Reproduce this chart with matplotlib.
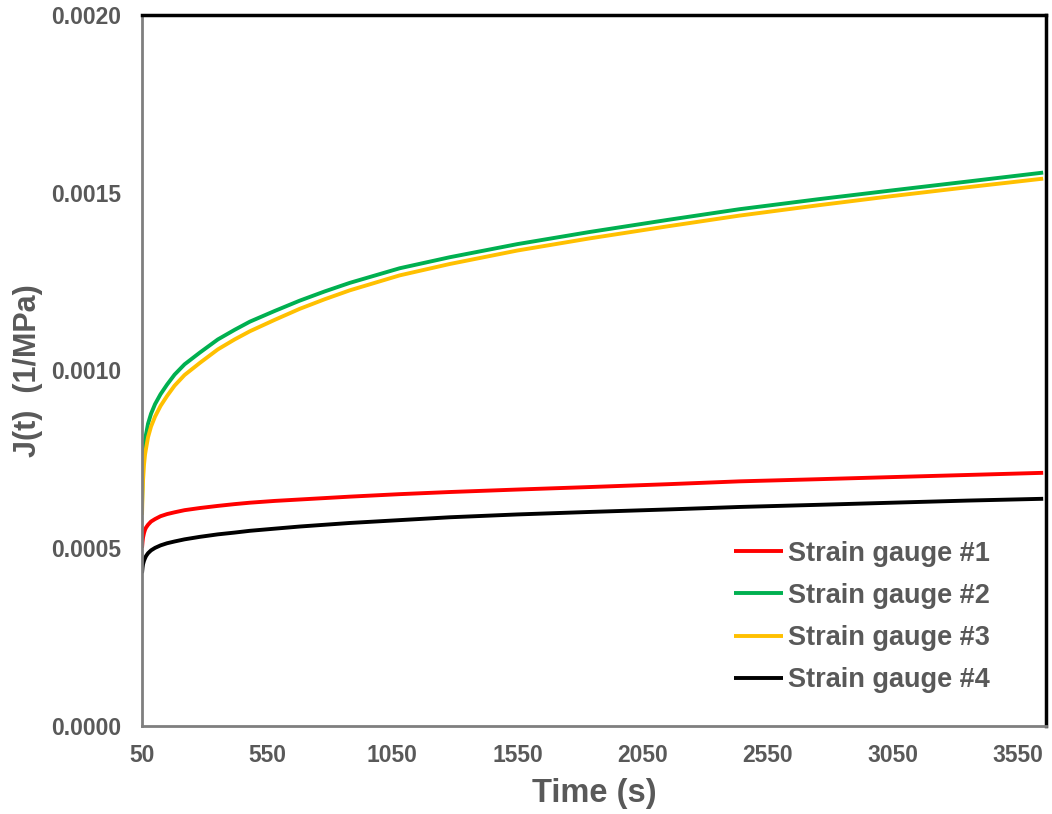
import matplotlib
matplotlib.use("Agg")
import matplotlib.pyplot as plt

# 시간 (s) 와 각 스트레인 게이지의 크리프 컴플라이언스 J(t)
time_s = [50, 52, 54, 58, 62, 66, 74, 86, 102, 124, 150, 180, 220, 281, 353, 420, 481,
          580, 680, 780, 880, 1079, 1279, 1550, 1838, 2150, 2436, 2750, 3047, 3350, 3650]

gauge_1 = [0.000501, 0.000518, 0.000530, 0.000543, 0.000552, 0.000558, 0.000566, 0.000575,
           0.000582, 0.000590, 0.000596, 0.000601, 0.000607, 0.000613, 0.000619, 0.000624,
           0.000628, 0.000633, 0.000637, 0.000641, 0.000645, 0.000652, 0.000658, 0.000665,
           0.000672, 0.000680, 0.000688, 0.000694, 0.000700, 0.000706, 0.000712]
gauge_2 = [0.000620, 0.000700, 0.000740, 0.000780, 0.000805, 0.000820, 0.000850, 0.000878,
           0.000905, 0.000933, 0.000960, 0.000988, 0.001017, 0.001050, 0.001087, 0.001114,
           0.001137, 0.001167, 0.001196, 0.001222, 0.001246, 0.001287, 0.001318, 0.001355,
           0.001389, 0.001423, 0.001453, 0.001481, 0.001506, 0.001531, 0.001556]
gauge_3 = [0.000594, 0.000650, 0.000690, 0.000735, 0.000763, 0.000780, 0.000812, 0.000842,
           0.000870, 0.000900, 0.000928, 0.000957, 0.000987, 0.001021, 0.001059, 0.001087,
           0.001110, 0.001142, 0.001173, 0.001200, 0.001225, 0.001267, 0.001299, 0.001337,
           0.001371, 0.001405, 0.001435, 0.001464, 0.001490, 0.001515, 0.001539]
gauge_4 = [0.000430, 0.000445, 0.000455, 0.000465, 0.000472, 0.000478, 0.000486, 0.000494,
           0.000501, 0.000508, 0.000514, 0.000519, 0.000525, 0.000532, 0.000539, 0.000544,
           0.000549, 0.000555, 0.000561, 0.000566, 0.000571, 0.000579, 0.000587, 0.000595,
           0.000602, 0.000609, 0.000616, 0.000622, 0.000628, 0.000634, 0.000639]

series_labels = ['Strain gauge #1', 'Strain gauge #2', 'Strain gauge #3', 'Strain gauge #4']
series_colors = ['#FF0000', '#00B050', '#FFC000', '#000000']

x_ticks = [50, 550, 1050, 1550, 2050, 2550, 3050, 3550]
y_ticks = [0.0, 0.0005, 0.0010, 0.0015, 0.0020]

text_color = '#595959'
plt.rcParams['font.family'] = ['Liberation Sans', 'DejaVu Sans']

fig = plt.figure(figsize=(10.52, 8.14), dpi=100, facecolor='white')
ax = fig.add_axes([0.135, 0.108, 0.859, 0.874])

for values, label, color in zip([gauge_1, gauge_2, gauge_3, gauge_4], series_labels, series_colors):
    ax.plot(time_s, values, color=color, lw=2.8, label=label, solid_capstyle='butt')

ax.set_xlim(50, 3660)
ax.set_ylim(0, 0.002)
ax.set_xticks(x_ticks)
ax.set_yticks(y_ticks)
ax.set_yticklabels([f'{v:.4f}' for v in y_ticks])
ax.tick_params(length=0, labelsize=16.5, labelcolor=text_color)
ax.tick_params(axis='x', pad=13)
ax.tick_params(axis='y', pad=15)
for lbl in ax.get_xticklabels() + ax.get_yticklabels():
    lbl.set_fontweight('bold')

# 테두리: 좌/하 회색, 상/우 검정
ax.spines['left'].set_color('#7f7f7f')
ax.spines['bottom'].set_color('#7f7f7f')
ax.spines['left'].set_linewidth(2)
ax.spines['bottom'].set_linewidth(2)
ax.spines['top'].set_color('black')
ax.spines['right'].set_color('black')
ax.spines['top'].set_linewidth(2.5)
ax.spines['right'].set_linewidth(2.5)

ax.set_xlabel('Time (s)', fontsize=23.5, fontweight='bold', color=text_color, labelpad=8)
ax.set_ylabel('J(t)  (1/MPa)', fontsize=22, fontweight='bold', color=text_color)
ax.yaxis.set_label_coords(-0.11, 0.5)

leg = ax.legend(loc='lower right', bbox_to_anchor=(0.9535, 0.027), frameon=False,
                prop={'size': 19.5, 'weight': 'bold'}, handlelength=1.8, handletextpad=0.2,
                labelspacing=0.6, borderpad=0.0)
for t in leg.get_texts():
    t.set_color(text_color)

fig.savefig('out.png', dpi=100, facecolor='white')
